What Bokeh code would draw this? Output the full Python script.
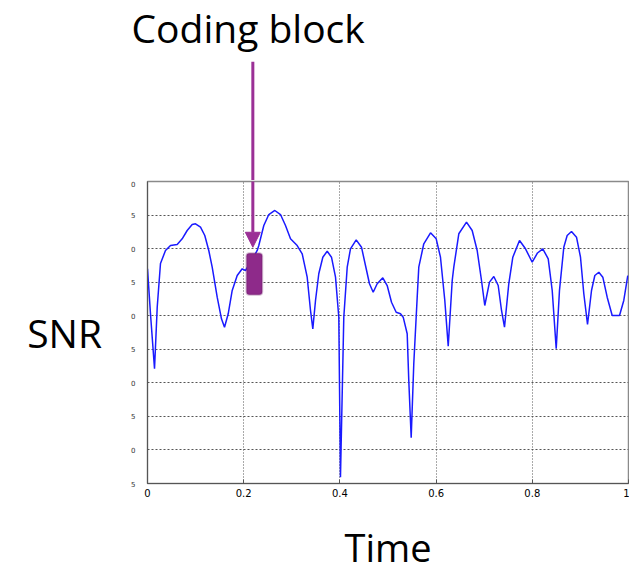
from bokeh.plotting import figure
from bokeh.layouts import column
from bokeh.models import (Arrow, NormalHead, BoxAnnotation, Range1d,
                          FixedTicker, Title)
from bokeh.embed import file_html
from bokeh.resources import INLINE

# ---- data ----
time = [0.0, 0.0062, 0.0146, 0.0202, 0.027, 0.0374, 0.0478, 0.0617, 0.0721,
        0.0825, 0.0929, 0.0998, 0.1102, 0.1191, 0.1274, 0.1345, 0.1449, 0.1538,
        0.1601, 0.1678, 0.1761, 0.1865, 0.1969, 0.2037, 0.2141, 0.2281, 0.2314,
        0.2418, 0.2522, 0.2647, 0.2765, 0.2869, 0.2973, 0.3112, 0.3216, 0.3320,
        0.3389, 0.3437, 0.3493, 0.3561, 0.3645, 0.3736, 0.3825, 0.3909, 0.3977,
        0.4012, 0.4081, 0.4152, 0.4220, 0.4339, 0.4449, 0.4532, 0.4615, 0.4692,
        0.4775, 0.4892, 0.4983, 0.5073, 0.5170, 0.5260, 0.5316, 0.5399, 0.5432,
        0.5482, 0.5536, 0.5607, 0.5640, 0.5744, 0.5884, 0.6002, 0.6091, 0.6181,
        0.6252, 0.6335, 0.6368, 0.6472, 0.6632, 0.6750, 0.6854, 0.6944, 0.7012,
        0.7110, 0.7200, 0.7291, 0.7360, 0.7422, 0.7511, 0.7595, 0.7734, 0.7859,
        0.7998, 0.8108, 0.8218, 0.8331, 0.8414, 0.8497, 0.8565, 0.8655, 0.8725,
        0.8815, 0.8919, 0.9002, 0.9071, 0.9148, 0.9231, 0.9300, 0.9383, 0.9466,
        0.9557, 0.9661, 0.9813, 0.9902, 0.9985]
snr = [36.99, 30.29, 22.09, 31.27, 37.78, 39.72, 40.46, 40.61, 41.46,
       42.70, 43.59, 43.70, 43.19, 41.95, 39.72, 37.23, 32.76, 29.54,
       28.29, 30.29, 33.76, 35.99, 36.99, 36.74, 37.93, 39.72, 40.46,
       43.44, 45.08, 45.68, 45.08, 43.44, 41.46, 40.46, 39.23, 35.74,
       30.78, 28.05, 32.27, 36.25, 38.72, 39.61, 38.72, 35.74, 29.78,
       5.94, 29.78, 37.23, 39.97, 41.31, 40.21, 37.48, 34.76, 33.50,
       34.76, 35.65, 34.50, 32.01, 30.52, 30.29, 29.78, 27.31, 20.35,
       11.81, 22.84, 32.76, 37.23, 40.72, 42.36, 41.46, 38.72, 32.27,
       25.46, 35.25, 37.23, 42.21, 43.94, 42.70, 39.72, 35.25, 31.52,
       35.00, 35.84, 34.50, 30.78, 28.29, 34.76, 38.72, 41.21, 39.97,
       37.97, 39.35, 39.97, 38.48, 33.76, 25.07, 33.76, 40.21, 41.95,
       42.55, 41.70, 38.72, 33.27, 28.69, 33.76, 35.99, 36.48, 35.74,
       32.76, 30.03, 30.03, 32.27, 35.99]

x_ticks = [0, 0.2, 0.4, 0.6, 0.8, 1]
x_tick_labels = ["0", "0.2", "0.4", "0.6", "0.8", "1"]
y_ticks = [5, 10, 15, 20, 25, 30, 35, 40, 45, 50]
# left y labels are cut off in the original: only their last character shows
y_tick_labels = ["5", "0", "5", "0", "5", "0", "5", "0", "5", "0"]

# coding block (time span and SNR span of the marked block)
block_t0, block_t1 = 0.2058, 0.2385
block_snr0, block_snr1 = 33.12, 39.32
arrow_t = 0.219
arrow_snr_end = 40.2

title_text = "Coding block"
ylabel_text = "SNR"
xlabel_text = "Time"

ARROW_COLOR = "#9b3096"
FONT = "Open Sans"

# ---- top strip: "Coding block" title and the arrow shaft ----
top = figure(width=629, height=180, output_backend="svg", toolbar_location=None,
             x_range=Range1d(0, 1), y_range=Range1d(0, 1),
             x_axis_location=None, y_axis_location=None, min_border=0,
             min_border_left=147, min_border_right=1, min_border_top=0,
             min_border_bottom=0)
top.outline_line_color = None
top.grid.visible = False
top.background_fill_color = "white"
top.border_fill_color = "white"
top.add_layout(Title(text=title_text, align="left", offset=-16, standoff=0,
                     vertical_align="top", text_font=FONT, text_font_size="39px",
                     text_font_style="normal", text_color="black"), "above")
top.add_layout(Arrow(end=None, x_start=arrow_t, y_start=0.95, x_end=arrow_t, y_end=-0.1,
                     line_color=ARROW_COLOR, line_width=3))

# ---- main plot ----
p = figure(width=629, height=395, output_backend="svg", toolbar_location=None,
           x_range=Range1d(0, 1), y_range=Range1d(5, 50),
           min_border_left=147, min_border_right=1, min_border_top=1,
           min_border_bottom=92)
p.background_fill_color = "white"
p.border_fill_color = "white"
p.outline_line_color = "#8a8a8a"
p.outline_line_width = 1.5

p.line(time, snr, line_color="#1a1aff", line_width=1.5)

# axes
p.xaxis.ticker = FixedTicker(ticks=x_ticks)
p.xaxis.major_label_overrides = {t: l for t, l in zip(x_ticks, x_tick_labels)}
p.xaxis.major_label_text_font = "DejaVu Sans"
p.xaxis.major_label_text_font_size = "10px"
p.xaxis.major_label_text_color = "black"
p.xaxis.major_label_standoff = 5
p.xaxis.major_tick_in = 4
p.xaxis.major_tick_out = 0
p.xaxis.minor_tick_line_color = None
p.xaxis.axis_line_color = "#555555"
p.xaxis.major_tick_line_color = "#555555"
p.xaxis.axis_label = xlabel_text
p.xaxis.axis_label_text_font = FONT
p.xaxis.axis_label_text_font_size = "38px"
p.xaxis.axis_label_text_font_style = "normal"
p.xaxis.axis_label_text_color = "black"
p.xaxis.axis_label_standoff = 21

p.yaxis.ticker = FixedTicker(ticks=y_ticks)
p.yaxis.major_label_overrides = {t: l for t, l in zip(y_ticks, y_tick_labels)}
p.yaxis.major_label_text_font = "DejaVu Sans"
p.yaxis.major_label_text_font_size = "7px"
p.yaxis.major_label_text_color = "#333333"
p.yaxis.major_label_standoff = 6
p.yaxis.major_tick_line_color = None
p.yaxis.minor_tick_line_color = None
p.yaxis.axis_line_color = "#555555"
p.yaxis.axis_label = ylabel_text
p.yaxis.axis_label_orientation = "horizontal"
p.yaxis.axis_label_text_font = FONT
p.yaxis.axis_label_text_font_size = "39px"
p.yaxis.axis_label_text_font_style = "normal"
p.yaxis.axis_label_text_color = "black"
p.yaxis.axis_label_standoff = 26

# grids
p.xgrid.ticker = FixedTicker(ticks=x_ticks)
p.xgrid.grid_line_color = "#555555"
p.xgrid.grid_line_dash = "1 2"
p.xgrid.grid_line_width = 1
p.ygrid.ticker = FixedTicker(ticks=y_ticks)
p.ygrid.grid_line_color = "#555555"
p.ygrid.grid_line_dash = "2 2"
p.ygrid.grid_line_width = 1

# coding block marker and arrow head
box = BoxAnnotation(left=block_t0, right=block_t1, bottom=block_snr0, top=block_snr1,
                    fill_color="#8e2a8a", fill_alpha=1.0,
                    line_color="#6a1a68", line_width=2, border_radius=3)
p.add_layout(box)
p.add_layout(Arrow(end=NormalHead(size=15, fill_color=ARROW_COLOR, line_color=ARROW_COLOR),
                   x_start=arrow_t, y_start=50.5, x_end=arrow_t, y_end=arrow_snr_end,
                   line_color=ARROW_COLOR, line_width=3))

layout = column(top, p, spacing=0)
open("out.html", "w").write(file_html(layout, INLINE))
